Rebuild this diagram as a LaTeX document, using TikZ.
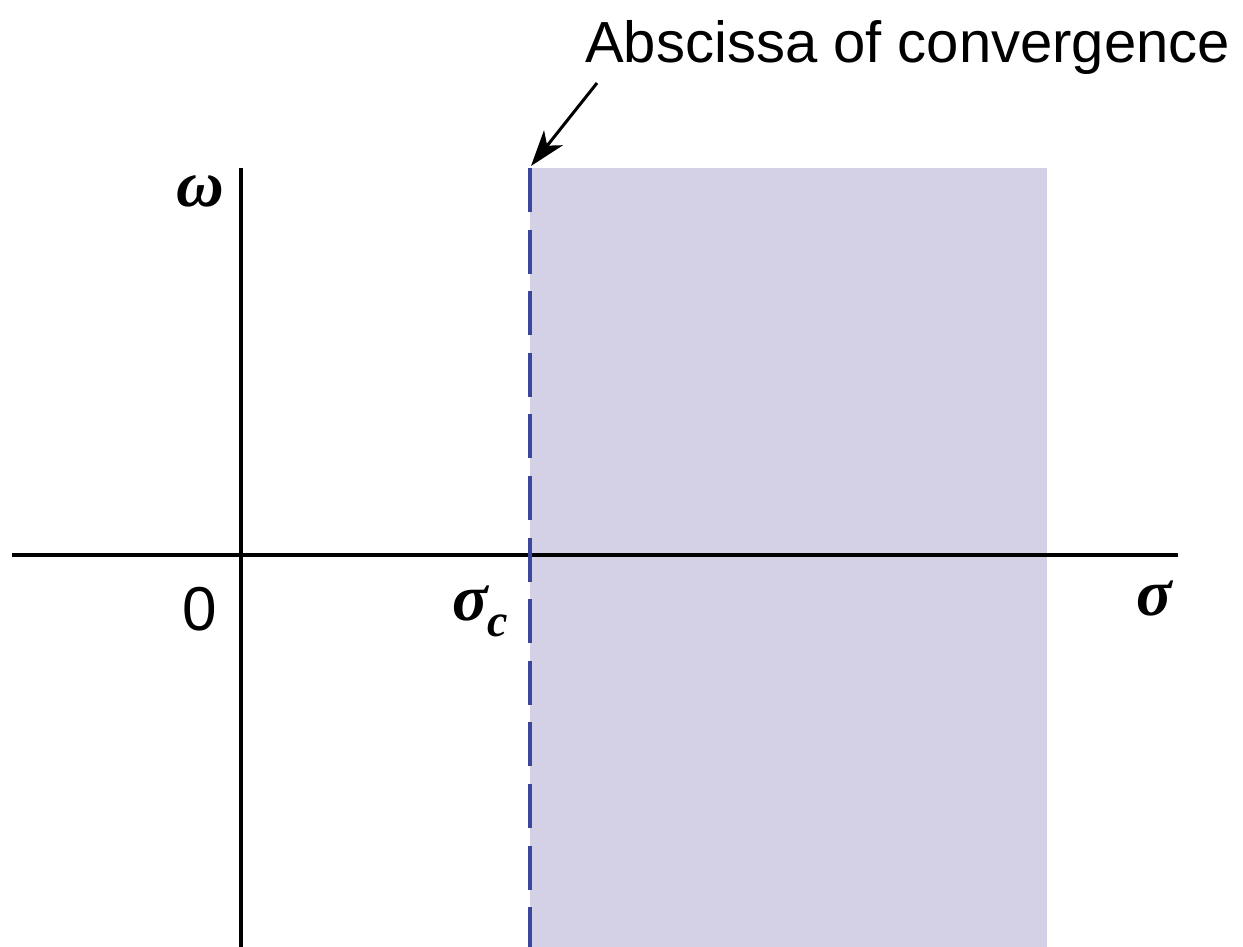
\documentclass[tikz,border=0pt]{standalone}
\usepackage{fontspec}
\setmainfont{Liberation Sans}
\newfontfamily\gk{Liberation Serif}
\usetikzlibrary{arrows.meta}
\definecolor{regionfill}{HTML}{D4D1E7}
\definecolor{dashblue}{HTML}{3A479C}
\tikzset{
  axis/.style={line width=3.4pt, black},
  sans/.style={inner sep=0pt, font=\fontsize{58}{60}\selectfont},
  greek/.style={inner sep=0pt, font=\fontsize{66}{68}\selectfont\gk\itshape\bfseries},
  callout/.style={line width=3pt, -{Stealth[length=36pt,width=24pt,inset=10pt]}}
}
\begin{document}
\begin{tikzpicture}[x=1pt,y=-1pt]
\useasboundingbox (0,0) rectangle (1243,947);
% shaded region
\fill[regionfill] (530,168) rectangle (1047,947);
% axes
\draw[axis] (12,555) -- (1178,555);
\draw[axis] (241,168) -- (241,947);
% abscissa of convergence
\draw[dashblue, line width=4pt, dash pattern=on 44pt off 17.6pt] (530,168) -- (530,950);
% labels
\node[sans, anchor=base west] (title) at (585,63) {Abscissa of convergence};
\coordinate (from) at (597,83);
\coordinate (tip) at (531,166);
\draw[callout] (from) -- (tip);
\node[greek, anchor=base] (omega) at (200,207) {ω};
\node[sans, font=\fontsize{62}{64}\selectfont, anchor=base] (zero) at (200,630) {0};
\node[greek, anchor=base] (sigma) at (1154,615) {σ};
\node[greek, anchor=base west] (sigmac) at (452,620) {σ\raisebox{-16pt}{\fontsize{46}{48}\selectfont c}};
\end{tikzpicture}
\end{document}
